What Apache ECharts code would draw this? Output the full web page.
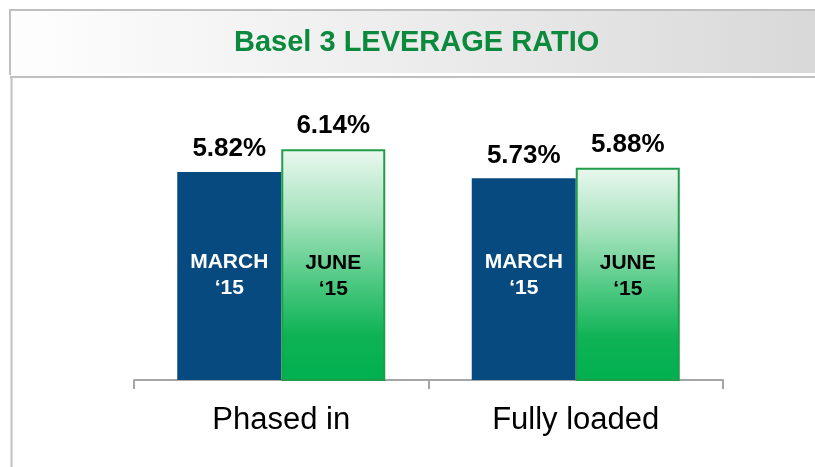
<!DOCTYPE html>
<html>
<head>
<meta charset="utf-8">
<script src="https://cdn.jsdelivr.net/npm/echarts@6/dist/echarts.min.js"></script>
<style>html,body{margin:0;padding:0;background:#fff}#c{width:815px;height:467px}</style>
</head>
<body>
<div id="c"></div>
<script>
var titleText = 'Basel 3 LEVERAGE RATIO';
var categories = ['Phased in', 'Fully loaded'];
var seriesNames = ['MARCH\n\u201815', 'JUNE\n\u201815'];
var marchValues = [5.82, 5.73];
var juneValues = [6.14, 5.88];

var FONT = '"Liberation Sans", Arial, Helvetica, sans-serif';
var chart = echarts.init(document.getElementById('c'), null, {renderer: 'canvas'});

var greenGrad = new echarts.graphic.LinearGradient(0, 0, 0, 1, [
  {offset: 0, color: '#eaf8ef'},
  {offset: 0.3, color: '#a3e2bb'},
  {offset: 0.6, color: '#45c67c'},
  {offset: 0.8, color: '#0fb356'},
  {offset: 1, color: '#00b050'}
]);

function xAx(show) {
  return {
    type: 'category', data: categories, show: show,
    axisLine: {show: show, lineStyle: {color: '#a6a6a6', width: 2}},
    axisTick: {show: show, length: 9, lineStyle: {color: '#a6a6a6', width: 2}},
    axisLabel: {show: show, margin: 25, fontSize: 31, color: '#000', fontFamily: FONT}
  };
}

var option = {
  animation: false,
  grid: {left: 134, right: 92, top: 95, bottom: 87},
  xAxis: [xAx(true), xAx(false)],
  yAxis: {type: 'value', min: 2.9, max: 6.9, show: false, splitLine: {show: false}},
  graphic: [
    {type: 'rect', shape: {x: 10, y: 9, width: 815, height: 64}, z: -10,
      style: {fill: new echarts.graphic.LinearGradient(0, 0, 1, 0, [
        {offset: 0, color: '#fefefe'}, {offset: 0.5, color: '#ececec'}, {offset: 1, color: '#d8d8d8'}]),
        stroke: null}},
    {type: 'line', shape: {x1: 9, y1: 10, x2: 815, y2: 10}, style: {stroke: '#c0c0c0', lineWidth: 2}},
    {type: 'line', shape: {x1: 10, y1: 9, x2: 10, y2: 75}, style: {stroke: '#c0c0c0', lineWidth: 2}},
    {type: 'line', shape: {x1: 10, y1: 77, x2: 815, y2: 77}, style: {stroke: '#c0c0c0', lineWidth: 2}},
    {type: 'line', shape: {x1: 11.5, y1: 76, x2: 11.5, y2: 467}, style: {stroke: '#c0c0c0', lineWidth: 2}},
    {type: 'text', x: 234, y: 43, style: {text: titleText, fill: '#0b8a3e', font: 'bold 29px ' + FONT,
      textVerticalAlign: 'middle', textAlign: 'left'}}
  ],
  series: [
    {type: 'bar', name: seriesNames[0], data: marchValues, barWidth: 104, barGap: '0%',
      itemStyle: {color: '#074a7f'},
      label: {show: true, position: 'insideBottom', distance: 79, formatter: '{a}',
        color: '#fff', fontSize: 21, fontWeight: 'bold', lineHeight: 26, fontFamily: FONT, align: 'center'}},
    {type: 'bar', name: seriesNames[1], data: juneValues, barWidth: 104, barGap: '0%',
      itemStyle: {color: greenGrad, borderColor: '#1f9d4b', borderWidth: 2},
      label: {show: true, position: 'insideBottom', distance: 79, formatter: '{a}',
        color: '#000', fontSize: 21, fontWeight: 'bold', lineHeight: 26, fontFamily: FONT, align: 'center'}},
    {type: 'bar', xAxisIndex: 1, data: marchValues, barWidth: 104, barGap: '0%', silent: true,
      itemStyle: {color: 'rgba(0,0,0,0)'},
      label: {show: true, position: 'top', distance: 10, formatter: function(p){return p.value.toFixed(2) + '%';},
        color: '#000', fontSize: 26, fontWeight: 'bold', fontFamily: FONT}},
    {type: 'bar', xAxisIndex: 1, data: juneValues, barWidth: 104, barGap: '0%', silent: true,
      itemStyle: {color: 'rgba(0,0,0,0)'},
      label: {show: true, position: 'top', distance: 10, formatter: function(p){return p.value.toFixed(2) + '%';},
        color: '#000', fontSize: 26, fontWeight: 'bold', fontFamily: FONT}}
  ]
};
chart.setOption(option);
</script>
</body>
</html>
